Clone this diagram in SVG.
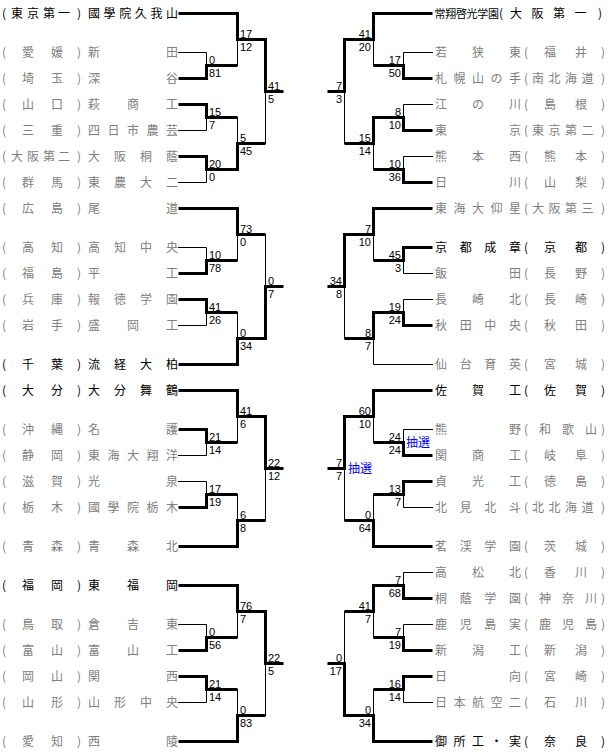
<svg xmlns="http://www.w3.org/2000/svg" width="610" height="755" viewBox="0 0 610 755">
<style>
.bg{fill:#fff}
.k{fill:none;stroke:#000;stroke-width:3;stroke-linecap:butt;stroke-linejoin:miter}
.n{fill:none;stroke:#000;stroke-width:1;stroke-linecap:square}
.t{font-family:"Noto Sans CJK JP","Noto Sans CJK SC",sans-serif;font-size:12px;fill:#808080}
.s{fill:#000}
.sc{font-family:"Liberation Sans",Arial,sans-serif;font-size:11px;fill:#000}
.r{text-anchor:end}
.lot{font-family:"Noto Sans CJK JP","Noto Sans CJK SC",sans-serif;font-size:12px;fill:#0000ff}
</style>
<rect class="bg" x="0" y="0" width="610" height="755"/>

<g id="connectors" transform="translate(0.5,0.5)">
<!-- left block 1 -->
<path class="k" d="M178 13H237V39H265V91H283"/>
<path class="n" d="M178 52H206V65"/>
<path class="k" d="M178 78H206V65H237"/><path class="n" d="M237 65V39"/>
<path class="k" d="M178 104H206V117H237"/><path class="n" d="M237 117V143"/>
<path class="n" d="M178 130H206V117"/>
<path class="k" d="M178 156H206V169H237V143H265"/><path class="n" d="M265 143V91"/>
<path class="n" d="M178 182H206V169"/>
<!-- left block 2 -->
<path class="k" d="M178 208H237V234H265"/><path class="n" d="M265 234V286"/>
<path class="n" d="M178 247H206V260"/>
<path class="k" d="M178 273H206V260H237"/><path class="n" d="M237 260V234"/>
<path class="k" d="M178 299H206V312H237"/><path class="n" d="M237 312V338"/>
<path class="n" d="M178 325H206V312"/>
<path class="k" d="M178 364H237V338H265V286H283"/>
<!-- left block 3 -->
<path class="k" d="M178 390H237V416H265V468H283"/>
<path class="k" d="M178 429H206V442H237"/><path class="n" d="M237 442V416"/>
<path class="n" d="M178 455H206V442"/>
<path class="n" d="M178 481H206V494"/>
<path class="k" d="M178 507H206V494H237"/><path class="n" d="M237 494V520"/>
<path class="k" d="M178 546H237V520H265"/><path class="n" d="M265 520V468"/>
<!-- left block 4 -->
<path class="k" d="M178 585H237V611H265V663H283"/>
<path class="n" d="M178 624H206V637"/>
<path class="k" d="M178 650H206V637H237"/><path class="n" d="M237 637V611"/>
<path class="k" d="M178 676H206V689H237"/><path class="n" d="M237 689V715"/>
<path class="n" d="M178 702H206V689"/>
<path class="k" d="M178 741H237V715H265"/><path class="n" d="M265 715V663"/>
<!-- right block 1 -->
<path class="k" d="M432 13H373V39H344V91H327"/>
<path class="n" d="M432 52H403V65"/>
<path class="k" d="M432 78H403V65H373"/><path class="n" d="M373 65V39"/>
<path class="n" d="M432 104H403V117"/>
<path class="k" d="M432 130H403V117H373V143H344"/><path class="n" d="M344 143V91"/>
<path class="n" d="M432 156H403V169"/>
<path class="k" d="M432 182H403V169H373"/><path class="n" d="M373 169V143"/>
<!-- right block 2 -->
<path class="k" d="M432 208H373V234H344V286H327"/>
<path class="k" d="M432 247H403V260H373"/><path class="n" d="M373 260V234"/>
<path class="n" d="M432 273H403V260"/>
<path class="n" d="M432 299H403V312"/>
<path class="k" d="M432 325H403V312H373V338H344"/><path class="n" d="M344 338V286"/>
<path class="n" d="M432 364H373V338"/>
<!-- right block 3 -->
<path class="k" d="M432 390H373V416H344V468H327"/>
<path class="n" d="M432 429H403V442"/>
<path class="k" d="M432 455H403V442H373"/><path class="n" d="M373 442V416"/>
<path class="k" d="M432 481H403V494H373"/><path class="n" d="M373 494V520"/>
<path class="n" d="M432 507H403V494"/>
<path class="k" d="M432 546H373V520H344"/><path class="n" d="M344 520V468"/>
<!-- right block 4 -->
<path class="n" d="M432 572H403V585"/>
<path class="k" d="M432 598H403V585H373V611H344"/><path class="n" d="M344 611V663"/>
<path class="n" d="M432 624H403V637"/>
<path class="k" d="M432 650H403V637H373"/><path class="n" d="M373 637V611"/>
<path class="k" d="M432 676H403V689H373"/><path class="n" d="M373 689V715"/>
<path class="n" d="M432 702H403V689"/>
<path class="k" d="M432 741H373V715H344V663H327"/>
</g>

<g id="scores" class="sc">
<text x="209" y="64">0</text><text x="209" y="77">81</text>
<text x="209" y="116">15</text><text x="209" y="129">7</text>
<text x="209" y="168">20</text><text x="209" y="181">0</text>
<text x="240" y="38">17</text><text x="240" y="51">12</text>
<text x="240" y="142">5</text><text x="240" y="155">45</text>
<text x="268" y="90">41</text><text x="268" y="103">5</text>

<text x="209" y="259">10</text><text x="209" y="272">78</text>
<text x="209" y="311">41</text><text x="209" y="324">26</text>
<text x="240" y="233">73</text><text x="240" y="246">0</text>
<text x="240" y="337">0</text><text x="240" y="350">34</text>
<text x="268" y="285">0</text><text x="268" y="298">7</text>

<text x="209" y="441">21</text><text x="209" y="454">14</text>
<text x="209" y="493">17</text><text x="209" y="506">19</text>
<text x="240" y="415">41</text><text x="240" y="428">6</text>
<text x="240" y="519">6</text><text x="240" y="532">8</text>
<text x="268" y="467">22</text><text x="268" y="480">12</text>

<text x="209" y="636">0</text><text x="209" y="649">56</text>
<text x="209" y="688">21</text><text x="209" y="701">14</text>
<text x="240" y="610">76</text><text x="240" y="623">7</text>
<text x="240" y="714">0</text><text x="240" y="727">83</text>
<text x="268" y="662">22</text><text x="268" y="675">5</text>

<g class="r">
<text x="401" y="64">17</text><text x="401" y="77">50</text>
<text x="401" y="116">8</text><text x="401" y="129">10</text>
<text x="401" y="168">10</text><text x="401" y="181">36</text>
<text x="371" y="38">41</text><text x="371" y="51">20</text>
<text x="371" y="142">15</text><text x="371" y="155">14</text>
<text x="342" y="90">7</text><text x="342" y="103">3</text>

<text x="401" y="259">45</text><text x="401" y="272">3</text>
<text x="401" y="311">19</text><text x="401" y="324">24</text>
<text x="371" y="233">7</text><text x="371" y="246">10</text>
<text x="371" y="337">8</text><text x="371" y="350">7</text>
<text x="342" y="285">34</text><text x="342" y="298">8</text>

<text x="401" y="441">24</text><text x="401" y="454">24</text>
<text x="401" y="493">13</text><text x="401" y="506">7</text>
<text x="371" y="415">60</text><text x="371" y="428">10</text>
<text x="371" y="519">0</text><text x="371" y="532">64</text>
<text x="342" y="467">7</text><text x="342" y="480">7</text>

<text x="401" y="584">7</text><text x="401" y="597">68</text>
<text x="401" y="636">7</text><text x="401" y="649">19</text>
<text x="401" y="688">16</text><text x="401" y="701">14</text>
<text x="371" y="610">41</text><text x="371" y="623">7</text>
<text x="371" y="714">0</text><text x="371" y="727">34</text>
<text x="342" y="662">0</text><text x="342" y="675">17</text>
</g>
<text class="lot" x="406" y="446.5">抽選</text>
<text class="lot" x="348" y="472.5">抽選</text>
</g>

<!-- left teams -->
<g id="L01"><text class="t s" y="17.5" x="2 11 27 43 58 77 88 103.6 119.2 134.8 150.4 166">(東京第一)國學院久我山</text></g>
<g id="L02"><text class="t" y="56.5" x="2 22 51 77 88 166">(愛媛)新田</text></g>
<g id="L03"><text class="t" y="82.5" x="2 22 51 77 88 166">(埼玉)深谷</text></g>
<g id="L04"><text class="t" y="108.5" x="2 22 51 77 88 127 166">(山口)萩商工</text></g>
<g id="L05"><text class="t" y="134.5" x="2 22 51 77 88 107.5 127 146.5 166">(三重)四日市農芸</text></g>
<g id="L06"><text class="t" y="160.5" x="2 11 27 43 58 77 88 114 140 166">(大阪第二)大阪桐蔭</text></g>
<g id="L07"><text class="t" y="186.5" x="2 22 51 77 88 114 140 166">(群馬)東農大二</text></g>
<g id="L08"><text class="t" y="212.5" x="2 22 51 77 88 166">(広島)尾道</text></g>
<g id="L09"><text class="t" y="251.5" x="2 22 51 77 88 114 140 166">(高知)高知中央</text></g>
<g id="L10"><text class="t" y="277.5" x="2 22 51 77 88 166">(福島)平工</text></g>
<g id="L11"><text class="t" y="303.5" x="2 22 51 77 88 114 140 166">(兵庫)報徳学園</text></g>
<g id="L12"><text class="t" y="329.5" x="2 22 51 77 88 127 166">(岩手)盛岡工</text></g>
<g id="L13"><text class="t s" y="368.5" x="2 22 51 77 88 114 140 166">(千葉)流経大柏</text></g>
<g id="L14"><text class="t s" y="394.5" x="2 22 51 77 88 114 140 166">(大分)大分舞鶴</text></g>
<g id="L15"><text class="t" y="433.5" x="2 22 51 77 88 166">(沖縄)名護</text></g>
<g id="L16"><text class="t" y="459.5" x="2 22 51 77 88 107.5 127 146.5 166">(静岡)東海大翔洋</text></g>
<g id="L17"><text class="t" y="485.5" x="2 22 51 77 88 166">(滋賀)光泉</text></g>
<g id="L18"><text class="t" y="511.5" x="2 22 51 77 88 107.5 127 146.5 166">(栃木)國學院栃木</text></g>
<g id="L19"><text class="t" y="550.5" x="2 22 51 77 88 127 166">(青森)青森北</text></g>
<g id="L20"><text class="t s" y="589.5" x="2 22 51 77 88 127 166">(福岡)東福岡</text></g>
<g id="L21"><text class="t" y="628.5" x="2 22 51 77 88 127 166">(鳥取)倉吉東</text></g>
<g id="L22"><text class="t" y="654.5" x="2 22 51 77 88 127 166">(富山)富山工</text></g>
<g id="L23"><text class="t" y="680.5" x="2 22 51 77 88 166">(岡山)関西</text></g>
<g id="L24"><text class="t" y="706.5" x="2 22 51 77 88 114 140 166">(山形)山形中央</text></g>
<g id="L25"><text class="t" y="745.5" x="2 22 51 77 88 166">(愛知)西陵</text></g>

<!-- right teams -->
<g id="R01"><text class="t s" y="17.5"><tspan style="font-size:11px" x="434.5 445.2 455.9 466.6 477.3 488">常翔啓光学園</tspan><tspan x="499 510 531.5 553 574.5 598">(大阪第一)</tspan></text></g>
<g id="R02"><text class="t" y="56.5" x="435 472 509 524 544 575 601">若狭東(福井)</text></g>
<g id="R03"><text class="t" y="82.5" x="435 453.5 472 490.5 509 524 532 548.5 565 581.5 601">札幌山の手(南北海道)</text></g>
<g id="R04"><text class="t" y="108.5" x="435 472 509 524 544 575 601">江の川(島根)</text></g>
<g id="R05"><text class="t" y="134.5" x="435 509 524 532 548.5 565 581.5 601">東京(東京第二)</text></g>
<g id="R06"><text class="t" y="160.5" x="435 472 509 524 544 575 601">熊本西(熊本)</text></g>
<g id="R07"><text class="t" y="186.5" x="435 509 524 544 575 601">日川(山梨)</text></g>
<g id="R08"><text class="t" y="212.5" x="435 453.5 472 490.5 509 524 532 548.5 565 581.5 601">東海大仰星(大阪第三)</text></g>
<g id="R09"><text class="t s" y="251.5" x="435 459.7 484.3 509 524 544 575 601">京都成章(京都)</text></g>
<g id="R10"><text class="t" y="277.5" x="435 509 524 544 575 601">飯田(長野)</text></g>
<g id="R11"><text class="t" y="303.5" x="435 472 509 524 544 575 601">長崎北(長崎)</text></g>
<g id="R12"><text class="t" y="329.5" x="435 459.7 484.3 509 524 544 575 601">秋田中央(秋田)</text></g>
<g id="R13"><text class="t" y="368.5" x="435 459.7 484.3 509 524 544 575 601">仙台育英(宮城)</text></g>
<g id="R14"><text class="t s" y="394.5" x="435 472 509 524 544 575 601">佐賀工(佐賀)</text></g>
<g id="R15"><text class="t" y="433.5" x="435 509 524 539 562 585 601">熊野(和歌山)</text></g>
<g id="R16"><text class="t" y="459.5" x="435 472 509 524 544 575 601">関商工(岐阜)</text></g>
<g id="R17"><text class="t" y="485.5" x="435 472 509 524 544 575 601">貞光工(徳島)</text></g>
<g id="R18"><text class="t" y="511.5" x="435 459.7 484.3 509 524 532 548.5 565 581.5 601">北見北斗(北北海道)</text></g>
<g id="R19"><text class="t" y="550.5" x="435 459.7 484.3 509 524 544 575 601">茗渓学園(茨城)</text></g>
<g id="R20"><text class="t" y="576.5" x="435 472 509 524 544 575 601">高松北(香川)</text></g>
<g id="R21"><text class="t" y="602.5" x="435 459.7 484.3 509 524 539 562 585 601">桐蔭学園(神奈川)</text></g>
<g id="R22"><text class="t" y="628.5" x="435 459.7 484.3 509 524 539 562 585 601">鹿児島実(鹿児島)</text></g>
<g id="R23"><text class="t" y="654.5" x="435 472 509 524 544 575 601">新潟工(新潟)</text></g>
<g id="R24"><text class="t" y="680.5" x="435 509 524 544 575 601">日向(宮崎)</text></g>
<g id="R25"><text class="t" y="706.5" x="435 453.5 472 490.5 509 524 544 575 601">日本航空二(石川)</text></g>
<g id="R26"><text class="t s" y="745.5" x="435 453.5 472 490.5 509 524 544 575 601">御所工・実(奈良)</text></g>
</svg>
